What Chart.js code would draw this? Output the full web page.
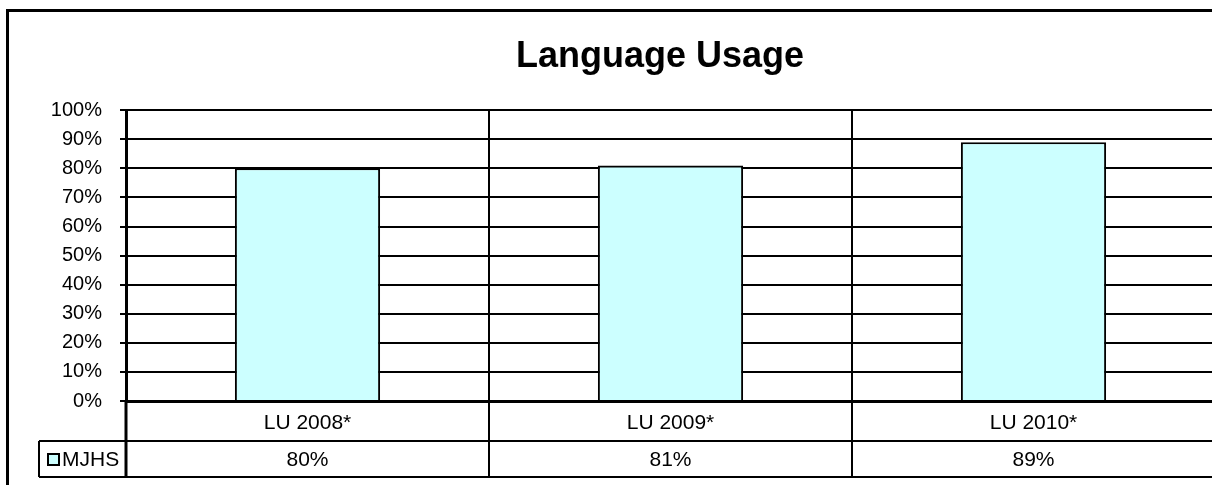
<!DOCTYPE html>
<html>
<head>
<meta charset="utf-8">
<script src="https://cdn.jsdelivr.net/npm/chart.js@4.4.1/dist/chart.umd.min.js"></script>
<style>
  html, body { margin: 0; padding: 0; background: #fff; overflow: hidden; }
  #frame {
    position: absolute; left: 6px; top: 9px;
    border-left: 3px solid #000; border-top: 3px solid #000;
    width: 1302px; height: 473px;
  }
</style>
</head>
<body>
<div id="frame"><canvas id="chart" width="1302" height="473"></canvas></div>
<script>
const categories = ['LU 2008*', 'LU 2009*', 'LU 2010*'];
const seriesName = 'MJHS';
const mjhsValues = [80, 81, 89];
const barColor = '#CCFFFF';
const fontFamily = '"Liberation Sans", Arial, sans-serif';

// data table drawn under the category axis
const dataTable = {
  id: 'dataTable',
  afterDraw(chart) {
    const { ctx, chartArea } = chart;
    const x = chart.scales.x;
    const rowTop = x.bottom;          // bottom of category label row
    const tableBottom = rowTop + 36;
    const keyLeft = 30;
    const bounds = [chartArea.left];
    for (let i = 1; i < categories.length; i++) {
      bounds.push((x.getPixelForValue(i - 1) + x.getPixelForValue(i)) / 2);
    }
    bounds.push(chartArea.right);

    ctx.save();
    ctx.strokeStyle = '#000';
    ctx.lineWidth = 2;
    ctx.beginPath();
    ctx.moveTo(keyLeft, rowTop); ctx.lineTo(chartArea.right, rowTop);
    ctx.moveTo(keyLeft, tableBottom); ctx.lineTo(chartArea.right, tableBottom);
    ctx.moveTo(keyLeft, rowTop); ctx.lineTo(keyLeft, tableBottom);
    bounds.forEach((b, i) => {
      const top = (i === 0) ? chartArea.bottom : chartArea.top;
      ctx.moveTo(b, top); ctx.lineTo(b, tableBottom);
    });
    ctx.stroke();
    ctx.lineWidth = 3;
    ctx.beginPath();
    ctx.moveTo(chartArea.left, chartArea.bottom); ctx.lineTo(chartArea.left, tableBottom);
    ctx.stroke();

    // values
    ctx.fillStyle = '#000';
    ctx.font = '21px ' + fontFamily;
    ctx.textAlign = 'center';
    ctx.textBaseline = 'middle';
    const midY = (rowTop + tableBottom) / 2 + 1;
    mjhsValues.forEach((v, i) => {
      ctx.fillText(v + '%', x.getPixelForValue(i), midY);
    });

    // legend key
    ctx.fillStyle = barColor;
    ctx.fillRect(39, midY - 6, 11, 11);
    ctx.lineWidth = 2;
    ctx.strokeRect(39, midY - 6, 11, 11);
    ctx.fillStyle = '#000';
    ctx.textAlign = 'left';
    ctx.fillText(seriesName, 53, midY);
    ctx.restore();
  }
};

new Chart(document.getElementById('chart'), {
  type: 'bar',
  data: {
    labels: categories,
    datasets: [{
      label: seriesName,
      data: mjhsValues,
      backgroundColor: barColor,
      borderColor: '#000',
      borderWidth: 2,
      barPercentage: 0.4,
      categoryPercentage: 1.0
    }]
  },
  options: {
    responsive: false,
    animation: false,
    layout: { padding: { top: 0, right: 0, bottom: 44, left: 0 } },
    plugins: {
      legend: { display: false },
      tooltip: { enabled: false },
      title: {
        display: true,
        text: 'Language Usage',
        color: '#000',
        font: { family: fontFamily, size: 36, weight: 'bold' },
        padding: { top: 23, bottom: 32 }
      }
    },
    scales: {
      x: {
        grid: { display: false },
        border: { display: true, color: '#000', width: 3 },
        ticks: { color: '#000', font: { family: fontFamily, size: 21 }, padding: 2 },
        afterFit(scale) { scale.height = 40; }
      },
      y: {
        min: 0,
        max: 100,
        ticks: {
          stepSize: 10,
          color: '#000',
          padding: 18,
          font: { family: fontFamily, size: 20 },
          callback: v => v + '%'
        },
        grid: { color: '#000', lineWidth: 2, tickLength: 6 },
        border: { display: true, color: '#000', width: 3 },
        afterFit(scale) { scale.width = 117; }
      },
      // empty right-hand space so the title stays centred on the whole frame
      spacer: {
        type: 'linear',
        position: 'right',
        grid: { display: false },
        border: { display: false },
        ticks: { display: false },
        afterFit(scale) { scale.width = 96; }
      }
    }
  },
  plugins: [dataTable]
});
</script>
</body>
</html>
